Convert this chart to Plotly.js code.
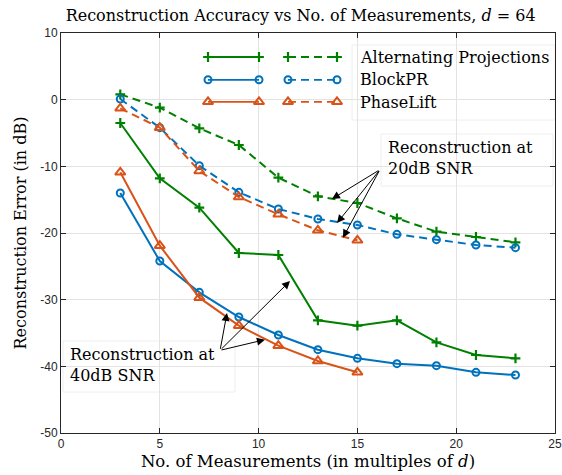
<!DOCTYPE html>
<html><head><meta charset="utf-8">
<script src="https://cdn.plot.ly/plotly-3.0.1.min.js"></script>
<style>html,body{margin:0;padding:0;background:#fff;}#chart{width:562px;height:475px;}</style>
</head><body><div id="chart"></div>
<script>
const xAll = [3,5,7,9,11,13,15,17,19,21,23];
const xPL = [3,5,7,9,11,13,15];
const ap20 = [0.8,-1.2,-4.3,-6.8,-11.7,-14.5,-15.5,-17.8,-19.8,-20.6,-21.4];
const bp20 = [0.1,-4.2,-9.9,-13.9,-16.4,-17.9,-18.8,-20.2,-21.0,-21.8,-22.2];
const pl20 = [-1.3,-4.2,-10.7,-14.6,-17.2,-19.6,-21.1];
const ap40 = [-3.5,-11.8,-16.2,-23.0,-23.3,-33.1,-33.9,-33.1,-36.4,-38.3,-38.8];
const bp40 = [-14.0,-24.2,-28.9,-32.6,-35.3,-37.5,-38.8,-39.6,-39.9,-40.9,-41.3];
const pl40 = [-10.9,-21.9,-29.7,-33.9,-36.9,-39.2,-40.9];
const seriesNames = ["Alternating Projections","BlockPR","PhaseLift"];
const xTicks = [0,5,10,15,20,25];
const yTicks = [-50,-40,-30,-20,-10,0,10];

const GREEN='#008000', BLUE='#0072BD', ORANGE='#D95319';
const serif = 'DejaVu Serif';
const mk = {
  ap: {symbol:'cross-thin-open', size:7, color:GREEN, line:{color:GREEN,width:2.2}},
  bp: {symbol:'circle-open', size:7, color:BLUE, line:{color:BLUE,width:2}},
  pl: {symbol:'triangle-up-open', size:9, color:ORANGE, line:{color:ORANGE,width:2}}
};
const DASH='8px,5px';
function tr(x,y,color,marker,dash,name){
  return {x:x,y:y,type:'scatter',mode:'lines+markers',name:name,showlegend:false,
    line:{color:color,width:2,dash:dash},marker:marker};
}
const data = [
  tr(xAll,ap20,GREEN,mk.ap,DASH,seriesNames[0]),
  tr(xAll,bp20,BLUE,mk.bp,DASH,seriesNames[1]),
  tr(xPL,pl20,ORANGE,mk.pl,DASH,seriesNames[2]),
  tr(xAll,ap40,GREEN,mk.ap,'solid',seriesNames[0]),
  tr(xAll,bp40,BLUE,mk.bp,'solid',seriesNames[1]),
  tr(xPL,pl40,ORANGE,mk.pl,'solid',seriesNames[2])
];
// custom legend samples on hidden overlay axes (0..1)
const legRows = [0.94,0.883,0.828];
const legMk = [mk.ap,mk.bp,mk.pl];
const legCol = [GREEN,BLUE,ORANGE];
for(let i=0;i<3;i++){
  data.push({x:[0.2976,0.4008],y:[legRows[i],legRows[i]],xaxis:'x2',yaxis:'y2',type:'scatter',mode:'lines+markers',
    showlegend:false,hoverinfo:'skip',line:{color:legCol[i],width:1.8},marker:legMk[i]});
  data.push({x:[0.4595,0.5587],y:[legRows[i],legRows[i]],xaxis:'x2',yaxis:'y2',type:'scatter',mode:'lines+markers',
    showlegend:false,hoverinfo:'skip',line:{color:legCol[i],width:1.8,dash:DASH},marker:legMk[i]});
}
const axisCommon = {showline:true,linecolor:'#262626',linewidth:1,mirror:'ticks',ticks:'inside',ticklen:5,
  tickcolor:'#262626',showgrid:true,gridcolor:'#e3e3e3',gridwidth:1,zeroline:false,
  tickfont:{family:'Liberation Sans',size:12,color:'#262626'}};
const ann = [];
function arrow(x,y,ax,ay){
  ann.push({x:x,y:y,ax:ax,ay:ay,xref:'x',yref:'y',axref:'x',ayref:'y',text:'',showarrow:true,
    arrowhead:2,arrowsize:1.6,arrowwidth:1,arrowcolor:'#000',standoff:0,startstandoff:0});
}
arrow(13.71,-14.9,16.14,-10.5);
arrow(13.97,-18.5,16.14,-10.5);
arrow(14.27,-20.7,16.14,-10.5);
arrow(11.59,-27.2,8.05,-37.6);
arrow(8.40,-32.0,8.05,-37.6);
arrow(10.32,-36.0,8.05,-37.6);
const txtFont = {family:serif,size:16,color:'#000'};
function ptext(t,px,py){ // px,py in pixels of page
  ann.push({text:t,xref:'paper',yref:'paper',x:(px-61)/494,y:1-(py-33)/400,xanchor:'left',yanchor:'middle',
    showarrow:false,align:'left',font:txtFont});
}
ptext(seriesNames[0],358,57);
ptext(seriesNames[1],358,80);
ptext(seriesNames[2],358,102);
ptext('Reconstruction at<br>20dB SNR',386,158);
ptext('Reconstruction at<br>40dB SNR',68,365);
function box(x0,y0,x1,y1){
  return {type:'rect',xref:'paper',yref:'paper',layer:'between',x0:(x0-61)/494,x1:(x1-61)/494,
    y0:1-(y1-33)/400,y1:1-(y0-33)/400,fillcolor:'#fff',line:{color:'#eeeeee',width:1}};
}
const layout = {
  width:562,height:475,margin:{l:61,r:7,t:33,b:42},paper_bgcolor:'#fff',plot_bgcolor:'#fff',
  showlegend:false,
  title:{text:'Reconstruction Accuracy vs No. of Measurements, <i>d</i> = 64',font:{family:serif,size:16,color:'#000'},
    x:0.535,xanchor:'center',y:0.967,yanchor:'middle'},
  xaxis:Object.assign({},axisCommon,{range:[0,25],tickvals:xTicks,ticktext:xTicks.map(String),
    title:{text:'No. of Measurements (in multiples of <i>d</i>)',font:{family:serif,size:16.5,color:'#000'},standoff:5}}),
  yaxis:Object.assign({},axisCommon,{range:[-50,10],tickvals:yTicks,ticktext:yTicks.map(String),
    title:{text:'Reconstruction Error (in dB)',font:{family:serif,size:16,color:'#000'},standoff:9}}),
  xaxis2:{overlaying:'x',range:[0,1],visible:false,showgrid:false,zeroline:false,anchor:'y2'},
  yaxis2:{overlaying:'y',range:[0,1],visible:false,showgrid:false,zeroline:false,anchor:'x2'},
  shapes:[box(352,45,555,120),box(381,134,553,186),box(63,341,235,392)],
  annotations:ann
};
Plotly.newPlot('chart',data,layout,{displayModeBar:false,staticPlot:true});
</script></body></html>
